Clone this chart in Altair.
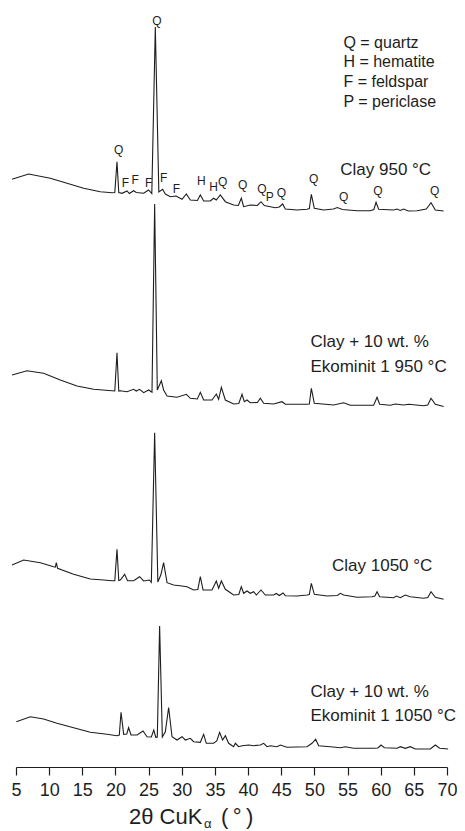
import altair as alt
import pandas as pd

# ---- diffraction patterns (2theta in degrees, intensity in a.u., stacked) ----
tt1 = [4.40, 6.90, 10.17, 12.69, 15.20, 17.71, 19.48, 19.90, 20.23, 20.50, 20.99, 21.74, 22.09, 22.74,
       23.14, 24.25, 25.00, 25.48, 26.01, 26.54, 27.11, 27.52, 28.27, 29.13, 30.04, 30.69, 31.29, 32.35,
       32.80, 33.30, 34.31, 34.80, 35.21, 35.81, 36.57, 37.82, 38.53, 38.98, 39.33, 40.34, 41.40, 41.95,
       42.45, 43.36, 44.11, 44.71, 45.21, 45.62, 47.38, 48.89, 49.24, 49.54, 49.99, 51.40, 52.86, 53.46,
       54.22, 56.43, 58.44, 58.97, 59.30, 59.69, 61.95, 62.47, 62.96, 63.46, 64.17, 65.48, 66.88, 67.59,
       68.24, 69.49]
i1 = [587.7, 593, 588.7, 583.7, 578.7, 575.3, 574.3, 574.5, 605.3, 574.5, 573.7, 576, 573.5, 576.3,
      574.5, 573.7, 577, 573.5, 740, 575, 577.7, 573, 570.3, 571, 567.7, 573, 567, 566.5,
      572, 566, 566, 568.7, 567, 572, 565.3, 562, 561.5, 568.7, 560.3, 562, 561.5, 565.3,
      561.5, 560.3, 559.3, 560, 563, 558, 557, 557.7, 558.5, 572.7, 558.7, 557, 558, 559.5,
      557.5, 556.3, 556.3, 557.5, 564.7, 557.7, 557, 558, 556.5, 558, 556, 556.3, 558, 564.3,
      557, 556]

tt2 = [4.40, 6.66, 9.16, 11.68, 14.20, 16.70, 19.48, 19.90, 20.23, 20.50, 20.73, 21.74, 22.74, 23.14,
       23.64, 24.25, 25.00, 25.51, 25.91, 26.31, 26.92, 27.26, 27.78, 29.28, 30.69, 31.29, 32.35, 32.80,
       33.30, 34.56, 35.21, 35.56, 35.97, 36.57, 37.82, 38.60, 39.09, 39.43, 39.84, 40.34, 41.40, 41.85,
       42.35, 43.85, 45.12, 45.62, 48.89, 49.24, 49.54, 49.99, 52.90, 54.41, 55.42, 58.94, 59.45, 59.84,
       61.46, 62.21, 63.46, 64.22, 66.48, 67.10, 67.59, 68.24, 69.49]
i2 = [392, 396.3, 393.7, 387, 381, 377.7, 376.3, 376, 414.3, 376, 376.3, 375.3, 377.7, 376,
      377.7, 374.3, 377, 374.7, 563, 377, 386.3, 377, 371, 369.7, 372.7, 368.7, 368, 374.7,
      367, 367, 373, 367.7, 379.7, 367, 363, 363.5, 372.7, 365.3, 367, 364.3, 364.5, 368.7,
      363.7, 363, 365.3, 362.7, 362.7, 363, 378.7, 363.7, 362, 364.3, 361.7, 361.7, 369.7, 362.7,
      361.7, 363, 362, 362.7, 361.3, 362, 368.7, 362.7, 360.5]

tt3 = [4.40, 6.15, 8.67, 10.67, 10.93, 11.08, 11.27, 13.69, 16.21, 18.21, 19.48, 19.90, 20.23, 20.50,
       20.73, 21.38, 21.83, 22.74, 23.64, 24.25, 25.11, 25.41, 25.91, 26.39, 26.84, 27.26, 27.78, 28.77,
       30.04, 30.79, 31.79, 32.42, 32.80, 33.21, 34.56, 35.21, 35.56, 35.97, 36.57, 37.82, 38.60, 38.98,
       39.33, 39.84, 40.34, 40.84, 41.25, 41.95, 42.60, 43.85, 44.26, 44.71, 45.27, 45.62, 47.38, 48.89,
       49.24, 49.54, 49.99, 51.91, 53.46, 53.91, 54.41, 56.43, 58.69, 59.12, 59.45, 59.84, 61.95, 62.36,
       62.96, 63.71, 64.46, 66.48, 67.10, 67.59, 68.24, 69.49]
i3 = [202, 207, 204.3, 200.3, 200, 204.3, 198.7, 192.7, 188, 187, 186.3, 186.3, 217.7, 186.5,
      187, 192.7, 186.3, 186.3, 190.3, 186, 187, 184.7, 334.3, 185, 192, 204.3, 184.3, 182,
      181, 180.3, 177, 177.5, 190.3, 177, 177, 186, 178.7, 186, 177.7, 172, 172.5, 180.3,
      173.7, 176, 173.7, 175.3, 172, 177, 172, 172, 173.5, 171.5, 174, 171.3, 171, 172,
      172.5, 183.7, 172.7, 171, 171.5, 173.7, 172, 169.7, 170.3, 171, 175.3, 170.3, 169.3, 171,
      169.3, 172, 170.3, 168.7, 169.5, 175.3, 169.7, 167.7]

tt4 = [5.05, 7.16, 9.16, 11.18, 13.69, 16.21, 18.73, 20.23, 20.58, 20.84, 21.24, 21.71, 21.98, 22.35,
       23.25, 24.16, 24.76, 25.41, 25.78, 26.09, 26.31, 26.66, 27.07, 27.52, 28.02, 28.53, 29.28, 30.04,
       30.54, 31.29, 31.79, 32.80, 33.30, 33.70, 34.80, 35.28, 35.71, 36.16, 36.57, 37.07, 37.82, 38.08,
       38.58, 39.09, 40.08, 40.84, 41.85, 42.35, 42.86, 43.36, 44.37, 44.86, 45.87, 48.89, 49.64, 50.19,
       50.64, 52.41, 53.91, 54.67, 55.92, 58.94, 59.57, 60.05, 60.55, 62.47, 62.96, 63.71, 64.46, 65.22,
       67.49, 68.24, 68.89, 70.17]
i4 = [45.3, 50.3, 48, 43.7, 39.3, 34.7, 32.7, 31.3, 32, 54.7, 32.7, 33, 39.3, 32,
      32, 36, 30.3, 30, 37, 29.5, 30, 141, 30, 35.3, 59.5, 30.3, 27, 30.3,
      27, 28.7, 25.3, 24.7, 32.7, 23.7, 23.7, 26, 34.7, 27, 31.3, 23.7, 20.3, 23.7,
      20.3, 21.3, 22, 21.3, 22, 23.7, 20.3, 21.3, 20.3, 22, 19.7, 20.3, 23.7, 27.7,
      21.3, 20.3, 19.3, 20.3, 18.7, 18.7, 19, 22, 19.3, 18.7, 20.3, 18.7, 20.3, 18,
      18, 22, 18.7, 18]

series_names = ["Clay 950 °C", "Clay + 10 wt. % Ekominit 1 950 °C",
                "Clay 1050 °C", "Clay + 10 wt. % Ekominit 1 1050 °C"]

# ---- phase markers on the top pattern ----
peak_letters = ["Q", "Q", "F", "F", "F", "F", "F", "H", "H", "Q", "Q", "Q", "P", "Q", "Q", "Q", "Q", "Q"]
peak_tt = [26.27, 20.47, 21.49, 22.99, 25.0, 27.26, 29.18, 32.95, 34.8, 36.16, 39.18, 42.1, 43.25,
           45.02, 49.89, 54.41, 59.6, 68.14]
peak_i = [746, 617, 584, 587, 584, 589, 578, 586, 580, 585, 582, 578, 570, 574, 588, 570, 576, 576]

# ---- sample labels ----
label_text = ["Clay 950 °C", "Clay + 10 wt. %", "Ekominit 1 950 °C", "Clay 1050 °C",
              "Clay + 10 wt. %", "Ekominit 1 1050 °C"]
label_tt = [53.9, 49.4, 49.4, 52.66, 49.4, 49.4]
label_i = [597, 425.3, 400.3, 201.3, 75.3, 51]

# ---- key ----
key_text = ["Q = quartz", "H = hematite", "F = feldspar", "P = periclase"]
key_tt = [54.38, 54.38, 54.38, 54.38]
key_i = [724.3, 705, 685, 665]

x_ticks = [5, 10, 15, 20, 25, 30, 35, 40, 45, 50, 55, 60, 65, 70]

FONT = "Liberation Sans"
INK = "#1e1e1e"

rows = []
for name, tt, ii in zip(series_names, [tt1, tt2, tt3, tt4], [i1, i2, i3, i4]):
    for k, (a, b) in enumerate(zip(tt, ii)):
        rows.append({"series": name, "k": k, "tt": a, "I": b})
df = pd.DataFrame(rows)

peaks_df = pd.DataFrame({"t": peak_letters, "tt": peak_tt, "I": peak_i})
labels_df = pd.DataFrame({"t": label_text, "tt": label_tt, "I": label_i})
key_df = pd.DataFrame({"t": key_text, "tt": key_tt, "I": key_i})

xscale = alt.Scale(domain=[5, 70], nice=False, zero=False)
yscale = alt.Scale(domain=[0, 757], nice=False, zero=False)

xaxis = alt.Axis(values=x_ticks, title=None, grid=False, labelFont=FONT, labelFontSize=18,
                 labelColor=INK, labelPadding=6, tickSize=8, tickColor=INK, tickWidth=1.2,
                 domainColor=INK, domainWidth=1.2, labelFlush=False, format="d")

X = alt.X("tt:Q", scale=xscale, axis=xaxis)
Y = alt.Y("I:Q", scale=yscale, axis=None)

lines = alt.Chart(df).mark_line(color=INK, strokeWidth=1.1, clip=False).encode(
    x=X, y=Y, detail="series:N", order="k:Q")

peaks = alt.Chart(peaks_df).mark_text(font=FONT, fontSize=12, color=INK, align="center",
                                       baseline="middle").encode(x=X, y=Y, text="t:N")

labels = alt.Chart(labels_df).mark_text(font=FONT, fontSize=17, color=INK, align="left",
                                         baseline="middle").encode(x=X, y=Y, text="t:N")

key = alt.Chart(key_df).mark_text(font=FONT, fontSize=16, color=INK, align="left",
                                   baseline="middle").encode(x=X, y=Y, text="t:N")

t1 = alt.Chart(pd.DataFrame({"t": ["2θ CuK"]})).mark_text(
    font=FONT, fontSize=22, color=INK, align="left", baseline="alphabetic").encode(
    x=alt.value(113), y=alt.value(814), text="t:N")
t2 = alt.Chart(pd.DataFrame({"t": ["α"]})).mark_text(
    font=FONT, fontSize=13, color=INK, align="left", baseline="alphabetic").encode(
    x=alt.value(188), y=alt.value(818), text="t:N")
t3 = alt.Chart(pd.DataFrame({"t": ["(\u2009°\u2009)"]})).mark_text(
    font=FONT, fontSize=22, color=INK, align="left", baseline="alphabetic").encode(
    x=alt.value(205), y=alt.value(814), text="t:N")

chart = alt.layer(lines, peaks, labels, key, t1, t2, t3).properties(
    width=431, height=757,
    autosize=alt.AutoSizeParams(type="none"),
    padding={"left": 8, "top": 2, "right": 10, "bottom": 64},
).configure_view(stroke=None)

chart.save("out.html", embed_options={"renderer": "svg", "actions": False})
